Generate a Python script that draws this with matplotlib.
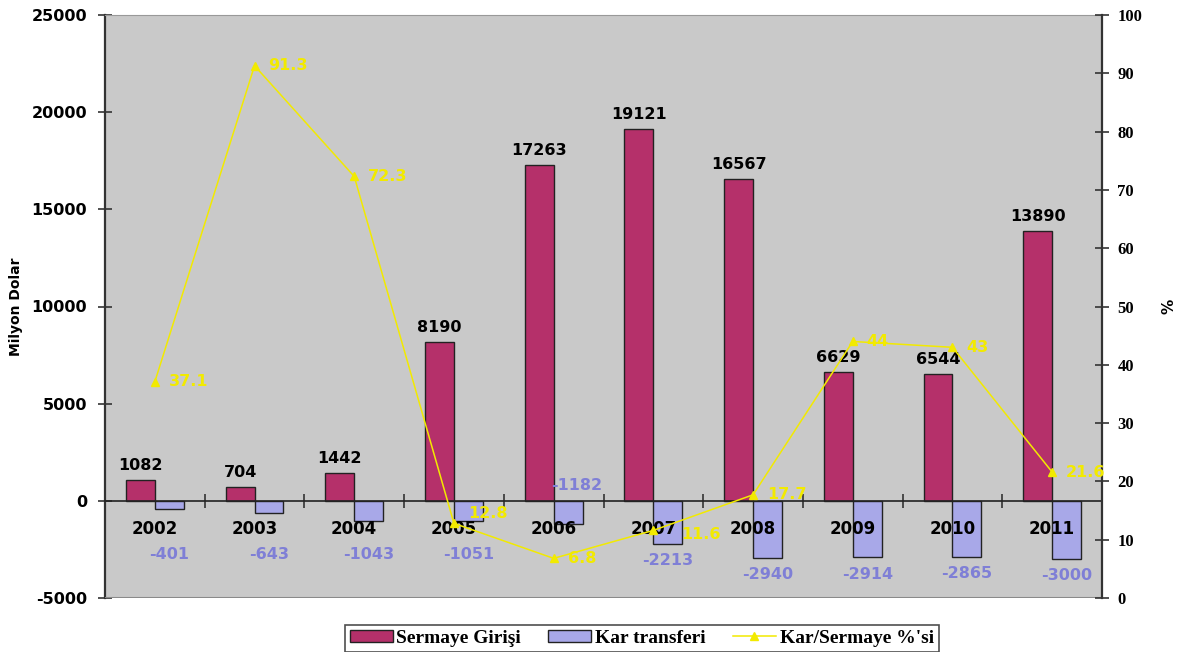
import matplotlib
matplotlib.use('Agg')
import matplotlib.pyplot as plt
import numpy as np

plt.rcParams['axes.unicode_minus'] = False

years = ['2002', '2003', '2004', '2005', '2006', '2007', '2008', '2009', '2010', '2011']
sermaye = [1082, 704, 1442, 8190, 17263, 19121, 16567, 6629, 6544, 13890]
kar = [-401, -643, -1043, -1051, -1182, -2213, -2940, -2914, -2865, -3000]
oran = [37.1, 91.3, 72.3, 12.8, 6.8, 11.6, 17.7, 44, 43, 21.6]
oran_txt = ['37.1', '91.3', '72.3', '12.8', '6.8', '11.6', '17.7', '44', '43', '21.6']
# kar label drawn above the zero line (as in the original)
kar_above = [False, False, False, False, True, False, False, False, False, False]

c_ser = '#B5306A'
c_kar = '#A8A8E8'
c_line = '#F2EA00'
c_kar_txt = '#7F7FD6'

fig = plt.figure(figsize=(11.84, 6.52), dpi=100)
ax = fig.add_axes([105/1184, 54/652, 997/1184, 583/652])
ax.set_facecolor('#C9C9C9')

# spine first: moving it resets the ticks
ax.spines['bottom'].set_position(('data', 0))
ax.spines['bottom'].set_color('#222222')
ax.spines['bottom'].set_linewidth(1.2)
ax.spines['left'].set_color('#333333')
ax.spines['left'].set_linewidth(1.6)
ax.spines['top'].set_color('#999999')
ax.spines['right'].set_visible(False)

x = np.arange(len(years))
w = 0.29
ax.bar(x - w/2, sermaye, w, color=c_ser, edgecolor='#222222', linewidth=1, zorder=1)
ax.bar(x + w/2, kar, w, color=c_kar, edgecolor='#222222', linewidth=1, zorder=1)

ax.set_xlim(-0.5, len(years) - 0.5)
ax.set_ylim(-5000, 25000)
ax.set_xticks(x)
ax.set_xticks(np.arange(0.5, len(years) - 0.5, 1), minor=True)
ax.tick_params(axis='x', which='major', length=0, pad=14)
ax.tick_params(axis='x', which='minor', length=10, direction='inout', width=1.2, color='#333333')
ax.tick_params(axis='y', direction='inout', length=10, width=1.2, color='#333333', pad=8)
ax.set_xticklabels(years, fontweight='bold', fontsize=12)
yt = list(range(-5000, 25001, 5000))
ax.set_yticks(yt)
ax.set_yticklabels([str(v) for v in yt], fontweight='bold', fontsize=11.5)

ax.axhline(-5000, color='#8A8A8A', linewidth=1.5, zorder=3)

ax.set_ylabel('Milyon Dolar', fontsize=10, fontweight='bold', labelpad=6)

for i in range(len(years)):
    ax.annotate(str(sermaye[i]), (x[i] - w/2, sermaye[i]), xytext=(0, 5), textcoords='offset points',
                ha='center', va='bottom', fontsize=11.5, fontweight='bold', color='black')
    if kar_above[i]:
        ax.annotate(str(kar[i]), (x[i] + w/2, 0), xytext=(6, 11), textcoords='offset points',
                    ha='center', va='center', fontsize=11.5, fontweight='bold', color=c_kar_txt)
    else:
        ax.annotate(str(kar[i]), (x[i] + w/2, min(kar[i], -1900)), xytext=(0, -12), textcoords='offset points',
                    ha='center', va='center', fontsize=11.5, fontweight='bold', color=c_kar_txt)

ax2 = ax.twinx()
ax2.set_ylim(0, 100)
ax2.plot(x, oran, color=c_line, linewidth=1.1, marker='^', markersize=6, zorder=5)
# a couple of labels sit a bit off in the original
lbl_shift = {3: (10, 7), 5: (20, -3)}
for i in range(len(years)):
    ax2.annotate(oran_txt[i], (x[i], oran[i]), xytext=lbl_shift.get(i, (10, 0)), textcoords='offset points',
                 ha='left', va='center', fontsize=11.5, fontweight='bold', color=c_line)
ax2.tick_params(axis='y', direction='inout', length=10, width=1.2, color='#333333', pad=6)
rt = list(range(0, 101, 10))
ax2.set_yticks(rt)
ax2.set_yticklabels([str(v) for v in rt], fontweight='bold', fontsize=12, family='Liberation Serif')
for s in ['top', 'left', 'bottom']:
    ax2.spines[s].set_visible(False)
ax2.spines['right'].set_color('#333333')
ax2.spines['right'].set_linewidth(1.6)
ax2.set_ylabel('%', fontsize=11, fontweight='bold', labelpad=14)

h1 = plt.Rectangle((0, 0), 1, 1, facecolor=c_ser, edgecolor='#222222')
h2 = plt.Rectangle((0, 0), 1, 1, facecolor=c_kar, edgecolor='#222222')
h3, = ax2.plot([], [], color=c_line, marker='^', markersize=6, linewidth=1.1)
leg = fig.legend([h1, h2, h3], ['Sermaye Girişi', 'Kar transferi', "Kar/Sermaye %'si"],
                 loc='upper center', bbox_to_anchor=(0.542, 1 - 625/652), borderaxespad=0,
                 ncol=3, frameon=True, fancybox=False, edgecolor='#222222',
                 handlelength=2.2, handleheight=0.6, handletextpad=0.2, columnspacing=1.4,
                 borderpad=0.25, prop={'family': 'Liberation Serif', 'weight': 'bold', 'size': 14})
leg.get_frame().set_linewidth(1.2)

fig.savefig('out.png', dpi=100)
